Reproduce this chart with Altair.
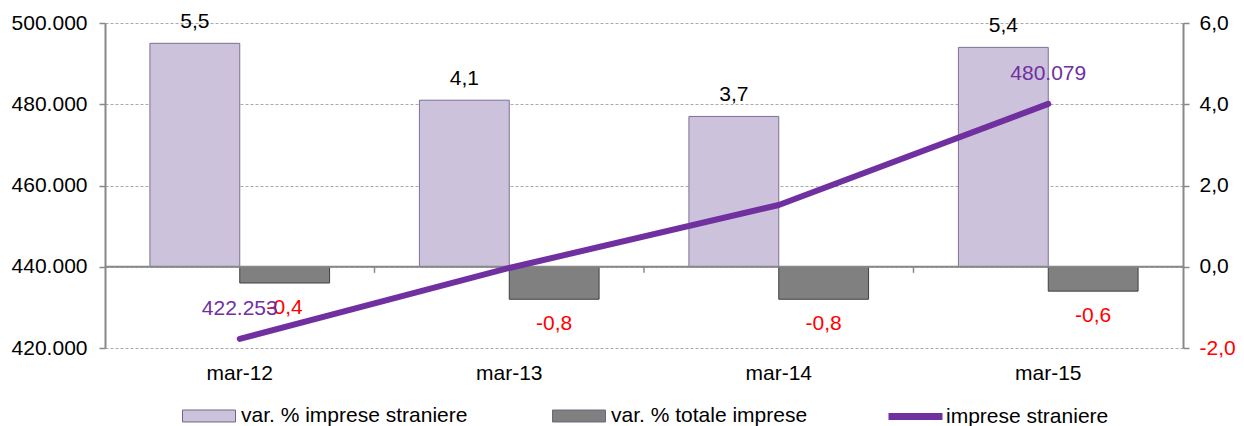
import altair as alt
import pandas as pd

# ---------------- data ----------------
periods = ["mar-12", "mar-13", "mar-14", "mar-15"]
var_straniere = [5.5, 4.1, 3.7, 5.4]          # right axis (bars)
var_totale = [-0.4, -0.8, -0.8, -0.6]         # right axis (bars)
imprese_straniere = [422253, 439700, 455200, 480079]  # left axis (line)
line_label_shown = [True, False, False, True]

S1 = "var. % imprese straniere"
S2 = "var. % totale imprese"
S3 = "imprese straniere"


def it_dec(v):
    return f"{v:.1f}".replace(".", ",")


def it_thou(v):
    return f"{v:,.0f}".replace(",", ".")


bars_df = pd.DataFrame({
    "period": periods * 2,
    "series": [S1] * len(periods) + [S2] * len(periods),
    "value": var_straniere + var_totale,
})
bars_df["label"] = bars_df["value"].map(it_dec)

line_df = pd.DataFrame({"period": periods, "value": imprese_straniere, "series": S3})
line_df["label"] = [it_thou(v) if s else "" for v, s in zip(imprese_straniere, line_label_shown)]

zero_df = pd.DataFrame({"y": [0]})
tick_df = pd.DataFrame({"period": periods[1:]})

# ---------------- styling ----------------
FONT = "Liberation Sans"
FS = 21
AXIS_GRAY = "#888888"
LIGHT = "#CCC2DB"
LIGHT_STROKE = "#7F6F96"
DARK = "#808080"
DARK_STROKE = "#404040"
PURPLE = "#7030A0"

x_scale = alt.Scale(domain=periods, paddingInner=0, paddingOuter=0)
x_axis = alt.Axis(title=None, labelAngle=0, domain=False, ticks=False, tickSize=0,
                  labelPadding=14, labelFontSize=FS, labelColor="black", grid=False)
X = alt.X("period:N", scale=x_scale, axis=x_axis)

xoff = alt.XOffset("series:N", scale=alt.Scale(domain=[S1, S2], paddingOuter=0.5, paddingInner=0))

y_right = alt.Scale(domain=[-2, 6], nice=False, zero=False)
y_left = alt.Scale(domain=[420000, 500000], nice=False, zero=False)

right_axis = alt.Axis(
    orient="right", title=None, values=[-2, 0, 2, 4, 6], grid=False,
    labelExpr="replace(replace(format(datum.value, '.1f'), '.', ','), '\u2212', '-')",
    labelColor={"condition": {"test": "datum.value < 0", "value": "#FF0000"}, "value": "black"},
    labelFontSize=FS, labelPadding=10, tickSize=6, tickColor=AXIS_GRAY, tickWidth=1.5,
    domainColor=AXIS_GRAY, domainWidth=2,
)
left_axis = alt.Axis(
    orient="left", title=None, values=[420000, 440000, 460000, 480000, 500000],
    labelExpr="replace(format(datum.value, ',.0f'), ',', '.')",
    labelFontSize=FS, labelColor="black", labelPadding=12, tickSize=6, tickColor=AXIS_GRAY,
    tickWidth=1.5, domainColor=AXIS_GRAY, domainWidth=2,
    grid=True, gridColor="#AAAAAA", gridDash=[3, 2], gridWidth=1,
)

bar_legend = alt.Legend(
    title=None, orient="none", legendX=77, legendY=366, direction="horizontal",
    labelFontSize=FS, labelColor="black", labelFont=FONT, labelOffset=5, labelLimit=500,
    symbolType="M-1,-0.226H1V0.226H-1Z", symbolSize=2809, symbolStrokeWidth=1,
    symbolStrokeColor="#6E6680", columnPadding=82, symbolOpacity=1,
)
line_legend = alt.Legend(
    title=None, orient="none", legendX=780, legendY=363, direction="horizontal",
    labelFontSize=FS, labelColor="black", labelFont=FONT, labelOffset=0, labelLimit=500,
    symbolType="stroke", symbolSize=2916, symbolStrokeWidth=7,
)

# ---------------- layers ----------------
bars = alt.Chart(bars_df).mark_bar(strokeWidth=1).encode(
    x=X,
    xOffset=xoff,
    y=alt.Y("value:Q", scale=y_right, axis=right_axis),
    fill=alt.Fill("series:N", scale=alt.Scale(domain=[S1, S2], range=[LIGHT, DARK]), legend=bar_legend),
    stroke=alt.condition(f"datum.series === '{S1}'", alt.value(LIGHT_STROKE), alt.value(DARK_STROKE)),
)

pos_text = alt.Chart(bars_df).transform_filter(f"datum.series === '{S1}'").mark_text(
    dy=-21, fontSize=FS, color="black", font=FONT, baseline="middle"
).encode(x=X, xOffset=xoff, y=alt.Y("value:Q", scale=y_right, axis=None), text="label:N")

neg_text = alt.Chart(bars_df).transform_filter(f"datum.series === '{S2}'").mark_text(
    dy=25, fontSize=FS, color="#FF0000", font=FONT, baseline="middle"
).encode(x=X, xOffset=xoff, y=alt.Y("value:Q", scale=y_right, axis=None), text="label:N")

zero_rule = alt.Chart(zero_df).mark_rule(color=AXIS_GRAY, strokeWidth=2).encode(
    y=alt.Y("y:Q", scale=y_right, axis=None)
)

cat_ticks = alt.Chart(tick_df).mark_rule(color=AXIS_GRAY, strokeWidth=1.5).encode(
    x=alt.X("period:N", scale=x_scale, axis=x_axis, bandPosition=0),
    y=alt.YDatum(0, scale=y_right, axis=None),
    y2=alt.Y2Datum(-0.15),
)

line = alt.Chart(line_df).mark_line(strokeWidth=6, strokeCap="round", strokeJoin="round").encode(
    x=X,
    y=alt.Y("value:Q", scale=y_left, axis=left_axis),
    stroke=alt.Stroke("series:N", scale=alt.Scale(domain=[S3], range=[PURPLE]), legend=line_legend),
)

line_text = alt.Chart(line_df).transform_filter("datum.label !== ''").mark_text(
    dy=-30, fontSize=FS, color=PURPLE, font=FONT, baseline="middle"
).encode(x=X, y=alt.Y("value:Q", scale=y_left, axis=None), text="label:N")

chart = alt.layer(
    bars, zero_rule, cat_ticks, pos_text, neg_text, line, line_text
).resolve_scale(
    y="independent"
).properties(
    width=1078, height=325,
    autosize=alt.AutoSizeParams(type="none"),
    padding={"left": 97, "top": 15, "right": 53, "bottom": 78},
).configure(
    font=FONT
).configure_view(
    stroke=None
)

chart.save("out.html", embed_options={"renderer": "svg", "actions": False})
